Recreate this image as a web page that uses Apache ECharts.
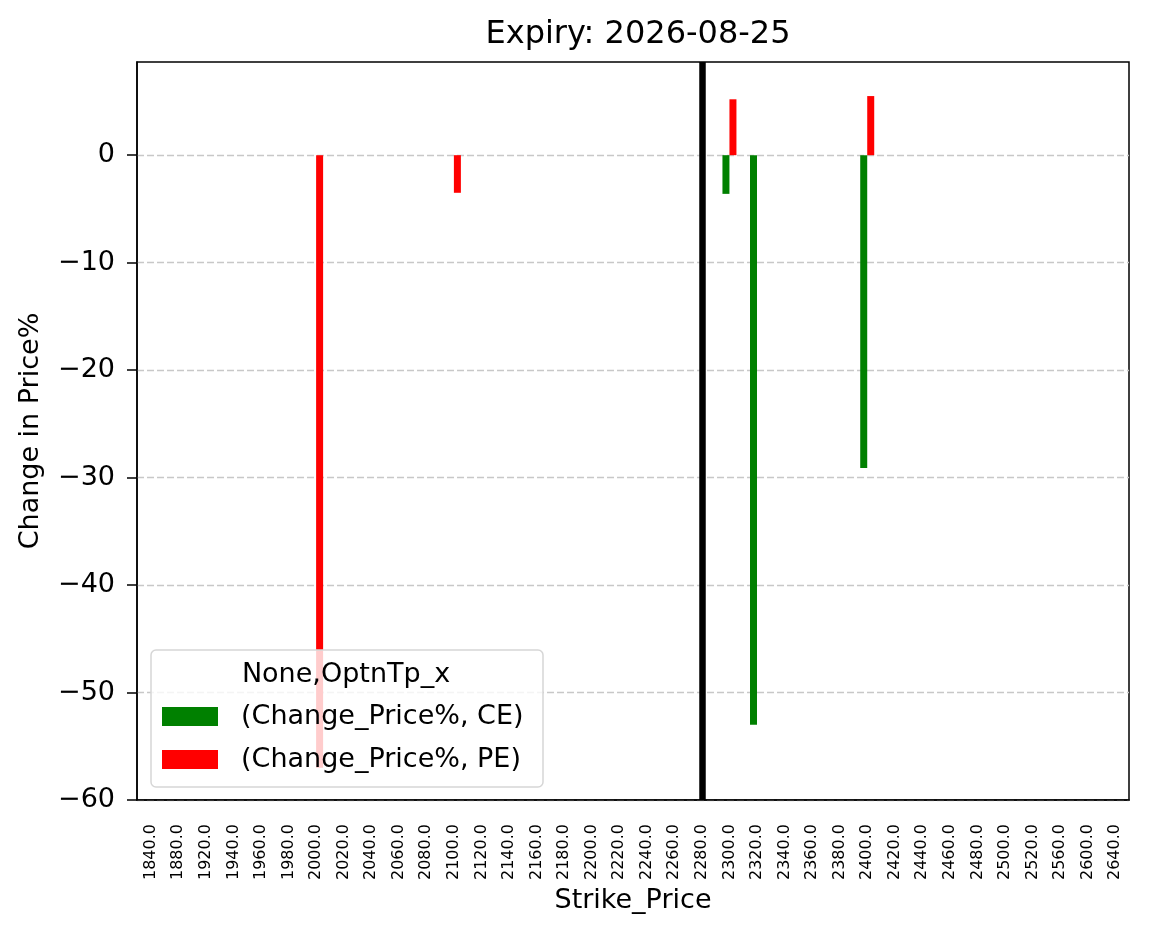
<!DOCTYPE html>
<html>
<head>
<meta charset="utf-8">
<script src="https://cdn.jsdelivr.net/npm/echarts@6/dist/echarts.min.js"></script>
<style>
  html, body { margin: 0; padding: 0; background: #fff; }
  #chart { width: 1149px; height: 939px; }
</style>
</head>
<body>
<div id="chart"></div>
<script>
// strike prices on the x axis
const strikes = [
  "1840.0", "1880.0", "1920.0", "1940.0", "1960.0", "1980.0", "2000.0", "2020.0", "2040.0",
  "2060.0", "2080.0", "2100.0", "2120.0", "2140.0", "2160.0", "2180.0", "2200.0", "2220.0",
  "2240.0", "2260.0", "2280.0", "2300.0", "2320.0", "2340.0", "2360.0", "2380.0", "2400.0",
  "2420.0", "2440.0", "2460.0", "2480.0", "2500.0", "2520.0", "2560.0", "2600.0", "2640.0"
];

// change in price % for calls (CE) and puts (PE), null = no bar
const ceValues = strikes.map(() => null);
const peValues = strikes.map(() => null);
ceValues[strikes.indexOf("2300.0")] = -3.6;
ceValues[strikes.indexOf("2320.0")] = -53.0;
ceValues[strikes.indexOf("2400.0")] = -29.1;
peValues[strikes.indexOf("2000.0")] = -57.0;
peValues[strikes.indexOf("2100.0")] = -3.5;
peValues[strikes.indexOf("2300.0")] = 5.2;
peValues[strikes.indexOf("2400.0")] = 5.5;

const yTicks = [-60, -50, -40, -30, -20, -10, 0];
const spotStrike = "2280.0";
const seriesNames = ["(Change_Price%, CE)", "(Change_Price%, PE)"];
const legendTitle = "None,OptnTp_x";

const font = "DejaVu Sans";
const chart = echarts.init(document.getElementById("chart"));

chart.setOption({
  animation: false,
  textStyle: { fontFamily: font, color: "#000" },
  title: {
    text: "Expiry: 2026-08-25",
    left: 633,
    top: 14,
    textAlign: "center",
    textStyle: { fontFamily: font, fontSize: 32, fontWeight: "normal", color: "#000" },
  },
  grid: {
    left: 137,
    right: 20,
    top: 62,
    bottom: 139,
    show: true,
    borderColor: "#000",
    borderWidth: 1.5,
  },
  legend: {
    orient: "vertical",
    left: 162,
    top: 703,
    padding: 0,
    itemWidth: 56,
    itemHeight: 19,
    itemGap: 16,
    icon: "rect",
    selectedMode: false,
    z: 12,
    data: seriesNames,
    textStyle: { fontFamily: font, fontSize: 27, color: "#000", padding: [0, 0, 0, 18] },
  },
  graphic: [
    {
      type: "rect",
      z: 10,
      shape: { x: 151, y: 650, width: 392, height: 137, r: 5 },
      style: { fill: "rgba(255,255,255,0.8)", stroke: "#d6d6d6", lineWidth: 1.5 },
    },
    {
      type: "text",
      z: 11,
      x: 346,
      y: 675,
      style: {
        text: legendTitle,
        fill: "#000",
        font: "27px 'DejaVu Sans'",
        align: "center",
        verticalAlign: "middle",
      },
    },
  ],
  xAxis: {
    type: "category",
    data: strikes,
    boundaryGap: true,
    name: "Strike_Price",
    nameLocation: "middle",
    nameGap: 86,
    nameTextStyle: { fontFamily: font, fontSize: 27, color: "#000" },
    axisLine: { onZero: false, lineStyle: { color: "#000", width: 1.5 } },
    axisTick: { alignWithLabel: true, length: 10, lineStyle: { color: "#000", width: 1.5 } },
    axisLabel: { rotate: 90, fontSize: 16, color: "#000", margin: 24, interval: 0 },
    splitLine: { show: false },
  },
  yAxis: {
    type: "value",
    min: -60,
    max: 8.67,
    interval: 10,
    name: "Change in Price%",
    nameLocation: "middle",
    nameGap: 93,
    nameTextStyle: { fontFamily: font, fontSize: 27, color: "#000" },
    axisLine: { show: true, lineStyle: { color: "#000", width: 1.5 } },
    axisTick: { show: true, length: 10, customValues: yTicks, lineStyle: { color: "#000", width: 1.5 } },
    axisLabel: {
      fontSize: 27,
      color: "#000",
      margin: 22,
      customValues: yTicks,
      formatter: (v) => String(v).replace("-", "\u2212"),
    },
    splitLine: {
      show: true,
      lineStyle: { color: "#c8c8c8", type: [7, 3], width: 1.4 },
    },
  },
  series: [
    {
      name: seriesNames[0],
      type: "bar",
      data: ceValues,
      barWidth: 7,
      barGap: "0%",
      itemStyle: { color: "#008000" },
    },
    {
      name: seriesNames[1],
      type: "bar",
      data: peValues,
      barWidth: 7,
      barGap: "0%",
      itemStyle: { color: "#ff0000" },
    },
    {
      // vertical marker at the spot strike
      name: "spot",
      type: "line",
      data: [],
      markLine: {
        silent: true,
        symbol: "none",
        label: { show: false },
        lineStyle: { color: "#000", width: 6.5, type: "solid" },
        data: [{ xAxis: spotStrike }],
      },
    },
  ],
});
</script>
</body>
</html>
